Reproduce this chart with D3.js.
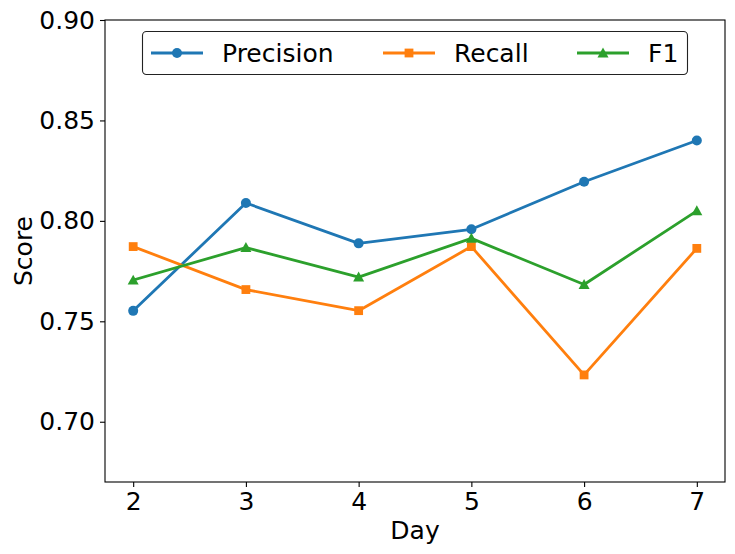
<!DOCTYPE html>
<html>
<head>
<meta charset="utf-8">
<script src="https://cdn.jsdelivr.net/npm/d3@7"></script>
<style>
  body { margin: 0; background: #fff; }
  svg { font-family: "DejaVu Sans", sans-serif; }
</style>
</head>
<body>
<svg id="chart" width="735" height="554"></svg>
<script>
// data
var days = [2, 3, 4, 5, 6, 7];
var precision = [0.7552, 0.8089, 0.7888, 0.7958, 0.8195, 0.8400];
var recall = [0.7872, 0.7658, 0.7553, 0.7872, 0.7233, 0.7863];
var f1 = [0.7705, 0.7867, 0.7720, 0.7913, 0.7683, 0.8050];
var yTicks = [0.70, 0.75, 0.80, 0.85, 0.90];
var seriesNames = ['Precision', 'Recall', 'F1'];

var colors = ['#1f77b4', '#ff7f0e', '#2ca02c'];
var markers = ['circle', 'square', 'triangle'];
var allSeries = [precision, recall, f1];

var svg = d3.select('#chart');
// plot box (note: "top" is reserved on window, so use a prefix)
var boxL = 105, boxR = 725, boxT = 20, boxB = 482;
var fontSize = 25;

var x = d3.scaleLinear().domain([1.75, 7.25]).range([boxL, boxR]);
var y = d3.scaleLinear().domain([0.67, 0.90]).range([boxB, boxT]);

// axes
var xAxis = svg.append('g').attr('transform', 'translate(0,' + boxB + ')')
  .call(d3.axisBottom(x).tickValues(days).tickFormat(d3.format('d')).tickSize(5).tickPadding(5));
var yAxis = svg.append('g').attr('transform', 'translate(' + boxL + ',0)')
  .call(d3.axisLeft(y).tickValues(yTicks).tickFormat(d3.format('.2f')).tickSize(5).tickPadding(5));

[xAxis, yAxis].forEach(function(g) {
  g.select('.domain').remove();
  g.selectAll('.tick line').attr('stroke', '#000').attr('stroke-width', 1.1);
  g.selectAll('.tick text').attr('fill', '#000').style('font-size', fontSize + 'px')
    .style('font-family', '"DejaVu Sans", sans-serif');
});
xAxis.selectAll('.tick text').attr('dy', '0.72em');

// frame
svg.append('rect').attr('x', boxL).attr('y', boxT)
  .attr('width', boxR - boxL).attr('height', boxB - boxT)
  .attr('fill', 'none').attr('stroke', '#000').attr('stroke-width', 1.1);

// axis labels
svg.append('text').attr('x', (boxL + boxR) / 2).attr('y', 539)
  .attr('text-anchor', 'middle').style('font-size', fontSize + 'px').text('Day');
svg.append('text').attr('transform', 'translate(32,' + ((boxT + boxB) / 2) + ') rotate(-90)')
  .attr('text-anchor', 'middle').style('font-size', fontSize + 'px').text('Score');

function drawMarker(g, kind, cx, cy, color) {
  if (kind === 'circle') {
    g.append('circle').attr('cx', cx).attr('cy', cy).attr('r', 5).attr('fill', color);
  } else if (kind === 'square') {
    g.append('rect').attr('x', cx - 4.4).attr('y', cy - 4.4).attr('width', 8.8).attr('height', 8.8).attr('fill', color);
  } else {
    var s = 5.5;
    g.append('path').attr('d', 'M' + cx + ',' + (cy - s) + 'L' + (cx + s) + ',' + (cy + s * 0.8) +
      'L' + (cx - s) + ',' + (cy + s * 0.8) + 'Z').attr('fill', color);
  }
}

var line = d3.line().x(function(d, i) { return x(days[i]); }).y(function(d) { return y(d); });

allSeries.forEach(function(vals, k) {
  var g = svg.append('g');
  g.append('path').datum(vals).attr('d', line)
    .attr('fill', 'none').attr('stroke', colors[k]).attr('stroke-width', 2.8)
    .attr('stroke-linejoin', 'round').attr('stroke-linecap', 'square');
  vals.forEach(function(v, i) {
    drawMarker(g, markers[k], x(days[i]), y(v), colors[k]);
  });
});

// legend
var legend = svg.append('g');
legend.append('rect').attr('x', 142.5).attr('y', 31.5).attr('width', 545).attr('height', 43)
  .attr('rx', 4).attr('fill', '#fff').attr('stroke', '#222').attr('stroke-width', 1.1);
var handleX = [151, 383, 577];
seriesNames.forEach(function(name, k) {
  var hx = handleX[k], hy = 53;
  legend.append('line').attr('x1', hx).attr('x2', hx + 52).attr('y1', hy).attr('y2', hy)
    .attr('stroke', colors[k]).attr('stroke-width', 2.8);
  drawMarker(legend, markers[k], hx + 26, hy, colors[k]);
  legend.append('text').attr('x', hx + 71).attr('y', hy + 9)
    .style('font-size', fontSize + 'px').text(name);
});
</script>
</body>
</html>
